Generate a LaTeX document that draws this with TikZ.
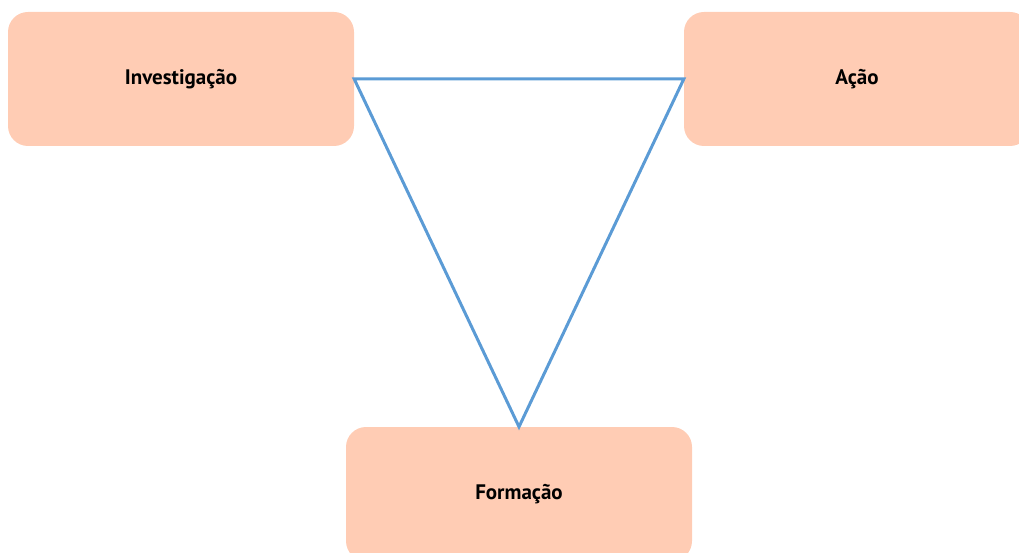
\documentclass[tikz,border=0pt]{standalone}
\usepackage{fontspec}
\setmainfont{PT Sans}
\definecolor{peach}{HTML}{FFCCB4}
\definecolor{lineblue}{HTML}{5B9BD5}
\begin{document}
\begin{tikzpicture}[x=1pt,y=-1pt,
  box/.style={rectangle,rounded corners=20pt,fill=peach,draw=none,
    minimum width=346pt,minimum height=134pt,inner sep=0pt,
    font=\fontsize{21}{24}\selectfont\bfseries},
  link/.style={draw=lineblue,line width=3pt,line join=miter}]
\useasboundingbox (0,0) rectangle (1019,553);
\begin{scope}
\clip (0,0) rectangle (1019,553);
\node[box] (inv) at (181,79) {Investigação};
\node[box] (aca) at (857,79) {Ação};
\node[box] (form) at (519,494) {Formação};
\end{scope}
\draw[link] (inv.east) -- (aca.west) -- (form.north) -- cycle;
\end{tikzpicture}
\end{document}
